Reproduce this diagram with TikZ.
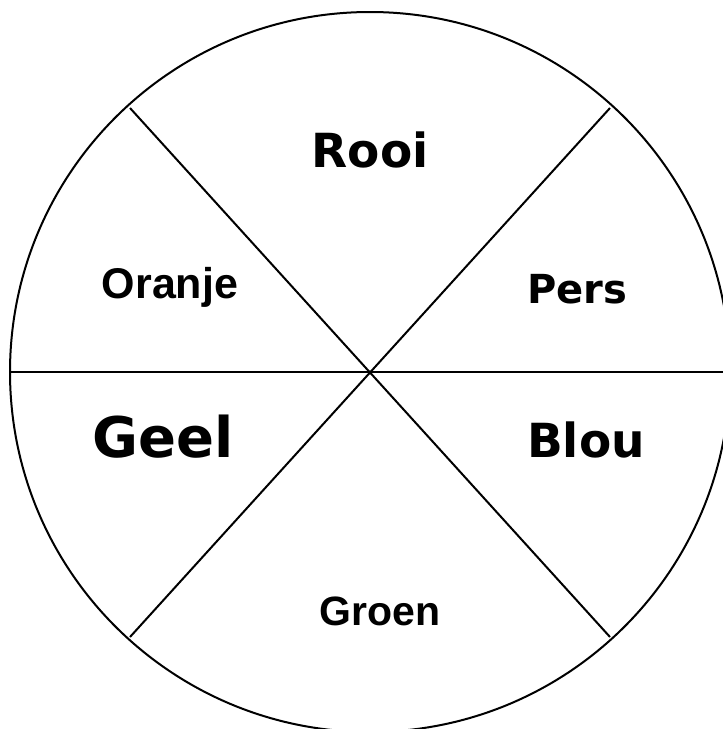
\documentclass[tikz,border=0pt]{standalone}
\usepackage{fontspec}
\setmainfont{DejaVu Sans}
\newfontfamily\arialfont{Liberation Sans}
\usepackage{tikz}
\usetikzlibrary{positioning}

\begin{document}
\begin{tikzpicture}[x=1pt, y=-1pt,
        every node/.style={inner sep=0pt},
        big/.style={font=\fontsize{47}{52}\selectfont\bfseries},
        mid/.style={font=\fontsize{40}{44}\selectfont\bfseries},
        small/.style={font=\arialfont\fontsize{41}{44}\selectfont\bfseries},
        spoke/.style={line width=2pt}]
      \useasboundingbox (0,0) rectangle (723,729);
      % wheel
      \coordinate (c) at (370,372);
      \draw[spoke] (c) circle (360);
      \coordinate (w) at (11,372);
      \coordinate (e) at (730,372);
      \coordinate (nw) at (130,108);
      \coordinate (ne) at (610,108);
      \coordinate (sw) at (130,637);
      \coordinate (se) at (610,637);
      \draw[spoke] (w) -- (e);
      \draw[spoke] (nw) -- (se);
      \draw[spoke] (ne) -- (sw);
      % labels
      \node[big] (rooi) at (370,150) {Rooi};
      \node[small, font=\arialfont\fontsize{43}{46}\selectfont\bfseries] (oranje) at (170,287) {Oranje};
      \node[mid] (pers) at (577,289) {Pers};
      \node[big, font=\fontsize{56}{60}\selectfont\bfseries] (geel) at (163,437) {Geel};
      \node[big] (blou) at (586,440) {Blou};
      \node[small] (groen) at (380,611) {Groen};
    \end{tikzpicture}
\end{document}
